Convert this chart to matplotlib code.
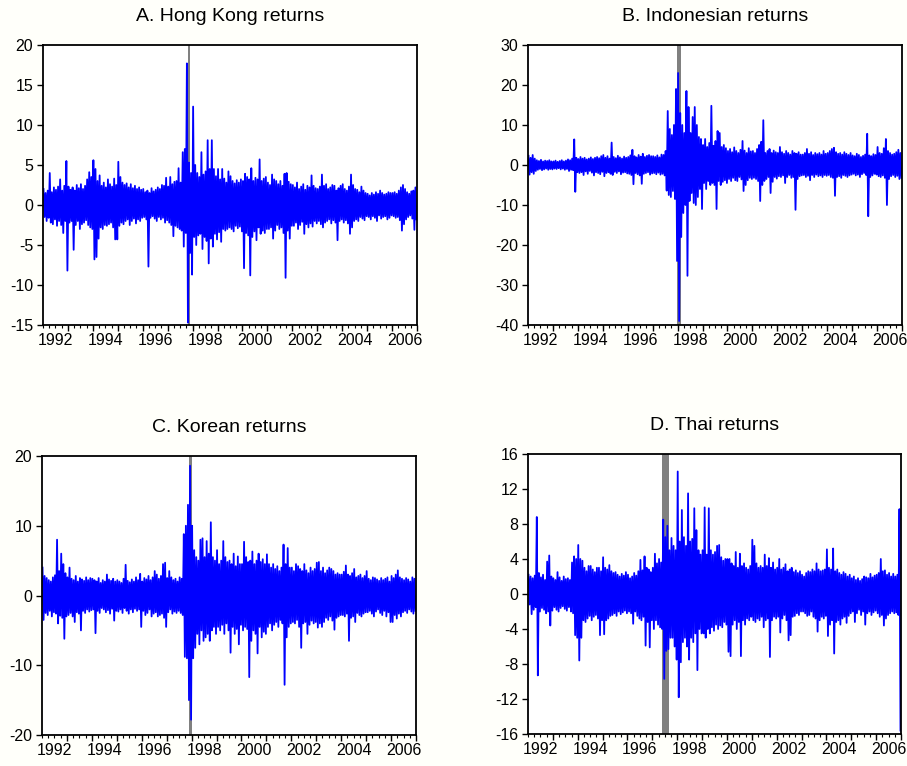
import numpy as np
import matplotlib
matplotlib.use("Agg")
from matplotlib import pyplot as plt

plt.rcParams['font.family'] = ['Liberation Sans', 'DejaVu Sans']
plt.rcParams['axes.unicode_minus'] = False

# monthly extremes of daily returns (%), Jan 1992 .. Dec 2006, one row per year
hk_high = [
    2.0, 1.5, 1.8, 4.0, 1.6, 2.2, 1.9, 2.3, 3.2, 1.8, 2.4, 5.5,
    2.3, 1.9, 2.2, 1.8, 2.5, 2.1, 2.6, 2.0, 2.4, 3.2, 4.1, 3.5,
    5.6, 4.5, 3.0, 3.7, 2.4, 2.8, 2.2, 3.2, 2.6, 2.3, 3.3, 2.5,
    5.4, 3.5, 2.8, 2.5, 2.7, 2.2, 2.6, 2.1, 2.4, 2.0, 2.2, 1.9,
    2.0, 1.6, 1.8, 1.5, 2.1, 1.7, 1.9, 2.2, 2.0, 2.5, 2.4, 3.4,
    2.3, 3.5, 2.6, 2.9, 3.0, 4.6, 2.8, 6.6, 7.0, 17.7, 5.3, 4.0,
    12.3, 5.0, 4.0, 3.5, 6.6, 3.8, 4.2, 8.1, 4.5, 8.1, 4.5, 3.6,
    4.5, 3.2, 4.5, 3.3, 2.8, 4.2, 3.6, 3.0, 2.7, 3.1, 2.8, 3.2,
    3.0, 3.9, 3.5, 3.2, 4.6, 3.0, 3.4, 3.2, 5.7, 3.0, 3.3, 3.5,
    2.8, 2.5, 3.8, 3.2, 3.0, 2.6, 3.0, 2.4, 3.9, 4.0, 2.9, 2.6,
    2.5, 2.2, 2.8, 2.0, 2.3, 2.6, 1.9, 2.4, 2.2, 3.7, 2.4, 2.1,
    2.0, 2.3, 3.8, 2.4, 2.6, 2.0, 2.2, 2.5, 2.4, 1.8, 2.1, 2.4,
    2.6, 2.0, 1.8, 2.3, 3.8, 2.5, 2.0, 1.9, 1.6, 2.3, 1.8, 1.5,
    1.4, 1.2, 1.5, 1.3, 1.6, 1.4, 1.8, 1.5, 1.3, 1.4, 1.6, 1.5,
    1.5, 1.6, 1.4, 1.8, 2.2, 2.5, 2.0, 1.6, 1.4, 1.7, 1.8, 2.2,
]
hk_low = [
    -1.5, -2.0, -1.6, -2.2, -2.4, -1.8, -2.6, -2.0, -2.5, -3.5, -2.0, -8.2,
    -2.2, -2.0, -5.6, -2.5, -2.0, -3.0, -2.4, -2.2, -1.9, -2.5, -2.8, -3.0,
    -6.8, -6.5, -4.2, -2.8, -3.0, -2.5, -2.6, -2.4, -2.2, -2.8, -4.3, -4.3,
    -2.6, -2.2, -2.4, -2.0, -1.8, -2.5, -2.0, -1.7, -2.3, -1.8, -2.0, -1.6,
    -1.5, -1.8, -7.7, -1.6, -1.4, -1.7, -2.0, -1.5, -1.8, -1.6, -2.2, -1.9,
    -2.2, -2.5, -3.9, -2.6, -2.8, -3.0, -3.2, -5.2, -3.5, -14.7, -6.0, -8.7,
    -4.0, -5.0, -3.8, -3.6, -5.5, -4.0, -4.5, -7.3, -4.2, -5.2, -3.6, -4.3,
    -3.4, -4.6, -3.0, -3.2, -3.0, -2.8, -3.0, -3.3, -2.6, -2.9, -2.7, -3.3,
    -7.9, -3.5, -3.8, -8.8, -4.0, -3.3, -4.4, -2.8, -3.6, -3.2, -3.5, -3.0,
    -3.0, -2.8, -4.2, -3.2, -2.5, -3.0, -2.8, -3.5, -9.1, -3.2, -4.2, -2.6,
    -2.6, -2.2, -3.0, -2.5, -2.1, -3.6, -2.4, -2.8, -2.3, -2.7, -2.0, -2.3,
    -2.0, -2.4, -2.8, -2.2, -2.0, -1.8, -2.3, -1.9, -2.2, -4.4, -2.0, -1.8,
    -2.2, -1.9, -2.3, -3.6, -2.8, -2.0, -1.8, -2.0, -1.5, -1.7, -1.9, -1.4,
    -1.5, -1.8, -1.4, -1.6, -2.0, -1.3, -1.7, -1.5, -1.4, -1.8, -1.6, -1.3,
    -1.4, -1.6, -1.5, -1.9, -3.2, -2.4, -1.8, -1.5, -1.3, -1.7, -3.1, -1.8,
]

id_high = [
    2.3, 1.8, 2.5, 1.6, 1.2, 1.0, 1.3, 0.9, 1.1, 1.0, 1.2, 0.9,
    0.9, 1.1, 0.8, 1.0, 1.2, 0.9, 1.1, 1.4, 1.2, 1.6, 6.4, 1.8,
    1.5, 2.0, 1.6, 1.8, 1.4, 1.6, 1.9, 1.5, 1.8, 2.0, 1.7, 2.2,
    2.5, 1.8, 2.2, 1.6, 5.6, 2.0, 1.7, 2.3, 1.9, 1.6, 2.1, 1.8,
    2.0, 2.4, 3.8, 2.2, 1.9, 2.5, 2.1, 2.8, 2.0, 2.3, 2.5, 2.2,
    2.2, 2.0, 2.4, 1.9, 2.6, 2.5, 3.5, 13.5, 9.0, 7.5, 10.0, 19.0,
    23.0, 13.0, 10.0, 8.0, 18.5, 14.5, 8.0, 12.0, 14.5, 10.0, 7.0, 6.5,
    5.0, 6.5, 4.5, 5.5, 14.8, 4.8, 6.0, 8.5, 8.0, 4.5, 5.0, 4.2,
    3.5, 4.0, 3.2, 4.4, 3.5, 3.0, 3.8, 6.0, 3.6, 3.0, 4.2, 3.4,
    3.5, 3.0, 4.0, 5.0, 5.8, 11.2, 3.0, 3.5, 4.0, 3.0, 3.6, 3.2,
    3.0, 4.5, 3.2, 2.8, 3.5, 3.0, 2.6, 3.5, 3.0, 2.8, 3.2, 2.6,
    2.6, 3.0, 4.0, 2.8, 3.2, 2.5, 3.0, 2.7, 3.0, 2.6, 3.5, 2.8,
    3.0, 3.5, 4.0, 4.3, 3.2, 2.8, 3.0, 2.6, 3.2, 2.8, 2.5, 3.0,
    2.4, 2.2, 2.8, 2.5, 2.0, 2.3, 2.6, 7.8, 2.4, 2.2, 2.7, 2.5,
    4.5, 3.0, 2.8, 4.2, 6.5, 3.5, 3.0, 2.6, 2.8, 3.2, 3.8, 3.0,
]
id_low = [
    -2.4, -1.8, -2.2, -1.5, -1.2, -1.0, -1.3, -1.1, -0.9, -1.2, -1.0, -1.1,
    -0.9, -1.0, -0.8, -1.1, -0.9, -1.2, -1.0, -1.5, -1.2, -1.3, -6.7, -1.8,
    -2.0, -1.8, -2.5, -1.6, -2.2, -1.5, -1.9, -2.6, -1.8, -2.0, -2.3, -1.7,
    -2.8, -2.0, -1.8, -2.2, -2.5, -1.7, -2.0, -1.6, -2.3, -1.9, -1.8, -2.1,
    -2.2, -2.5, -4.8, -2.0, -2.3, -2.6, -4.7, -2.2, -2.0, -1.8, -2.4, -2.1,
    -2.0, -2.3, -1.9, -2.4, -2.2, -2.6, -6.4, -7.5, -8.0, -6.5, -8.5, -24.0,
    -39.0, -18.0, -12.0, -10.0, -27.7, -9.0, -7.0, -9.5, -10.0, -8.0, -6.0, -11.0,
    -4.5, -6.0, -4.0, -5.0, -4.5, -5.0, -11.0, -4.0, -5.0, -4.2, -3.8, -4.5,
    -3.5, -4.0, -3.2, -3.8, -4.0, -3.0, -3.6, -6.5, -5.0, -3.8, -3.2, -3.5,
    -3.2, -3.5, -4.0, -9.0, -5.0, -4.0, -3.5, -3.0, -7.0, -4.2, -3.0, -3.4,
    -2.8, -3.0, -2.6, -4.5, -3.0, -2.5, -3.2, -3.0, -11.2, -3.5, -2.8, -2.6,
    -2.5, -3.0, -2.7, -3.8, -2.5, -3.0, -2.4, -2.8, -2.6, -3.0, -2.5, -2.7,
    -2.5, -3.0, -3.2, -7.7, -3.0, -2.8, -3.2, -2.5, -2.7, -3.0, -2.6, -2.4,
    -2.2, -2.6, -2.4, -3.0, -2.3, -2.0, -2.5, -12.8, -3.0, -2.6, -2.2, -2.4,
    -2.8, -3.0, -2.6, -3.2, -10.0, -3.5, -2.8, -2.5, -3.0, -2.7, -3.5, -3.2,
]

kr_high = [
    4.0, 2.8, 2.5, 2.2, 2.0, 2.6, 2.9, 8.0, 3.5, 6.0, 4.5, 3.2,
    2.6, 4.0, 2.4, 2.2, 2.8, 2.0, 2.5, 2.3, 2.1, 2.6, 2.2, 2.5,
    2.4, 2.2, 2.0, 2.5, 1.8, 2.2, 2.0, 3.0, 2.3, 2.1, 2.4, 2.0,
    2.2, 2.0, 1.8, 2.4, 4.4, 2.1, 1.9, 2.3, 2.0, 2.6, 2.2, 3.1,
    2.0, 2.5, 2.3, 2.8, 2.2, 2.6, 3.5, 3.0, 2.4, 2.8, 4.5, 4.7,
    2.5, 3.5, 2.6, 2.2, 2.4, 2.0, 2.6, 2.4, 8.8, 10.0, 13.0, 18.6,
    10.0, 6.5, 5.5, 5.0, 8.0, 8.2, 5.5, 7.8, 6.0, 10.5, 5.5, 5.0,
    6.5, 4.5, 5.0, 7.8, 5.5, 4.8, 5.0, 4.5, 6.0, 4.2, 5.6, 4.5,
    4.5, 7.7, 5.5, 4.8, 5.0, 6.3, 4.5, 5.0, 6.0, 4.8, 5.2, 4.5,
    5.9, 4.5, 4.0, 4.5, 3.8, 4.2, 3.5, 4.0, 7.3, 4.5, 6.8, 4.0,
    4.0, 3.5, 4.5, 4.2, 3.8, 3.5, 4.5, 3.6, 3.2, 4.0, 3.5, 3.8,
    4.7, 4.8, 3.5, 4.0, 3.2, 3.6, 4.0, 3.8, 3.5, 3.0, 3.2, 3.0,
    3.0, 3.4, 4.3, 3.0, 2.8, 3.2, 3.8, 2.6, 2.8, 3.0, 2.5, 2.8,
    3.5, 2.4, 2.2, 2.6, 2.5, 2.3, 2.1, 2.5, 2.2, 2.4, 2.6, 2.0,
    2.8, 2.5, 3.0, 3.6, 2.6, 2.4, 2.2, 2.5, 2.3, 2.0, 2.6, 2.4,
]
kr_low = [
    -3.5, -2.5, -2.8, -2.2, -3.0, -2.4, -2.6, -4.0, -2.9, -3.2, -6.2, -3.0,
    -2.8, -2.5, -3.0, -3.8, -2.4, -2.6, -5.0, -2.2, -2.5, -2.0, -2.3, -2.1,
    -2.0, -5.4, -2.2, -2.5, -1.8, -2.0, -2.4, -2.1, -2.6, -1.9, -3.6, -2.2,
    -2.3, -2.0, -2.5, -1.8, -2.2, -2.6, -2.0, -2.4, -1.9, -2.2, -2.0, -4.5,
    -2.2, -2.8, -2.5, -2.0, -3.0, -2.6, -2.4, -3.0, -2.8, -2.6, -3.2, -4.5,
    -2.4, -2.0, -2.6, -2.3, -2.5, -2.2, -2.5, -2.8, -8.8, -9.0, -15.0, -17.8,
    -9.0, -7.5, -5.5, -7.0, -5.0, -6.5, -6.0, -5.5, -6.5, -5.0, -4.5, -5.5,
    -4.5, -5.0, -4.2, -5.5, -4.0, -5.0, -8.2, -4.5, -5.5, -4.8, -7.0, -4.2,
    -5.0, -4.5, -4.8, -11.7, -6.5, -5.0, -5.5, -8.3, -4.5, -6.0, -5.2, -5.5,
    -4.5, -4.0, -5.0, -4.2, -3.8, -4.5, -3.5, -4.0, -12.8, -6.0, -4.5, -4.0,
    -3.8, -4.0, -3.5, -4.5, -7.5, -4.0, -3.8, -5.5, -4.2, -3.6, -4.0, -3.8,
    -4.6, -4.0, -4.5, -3.8, -3.2, -3.5, -3.0, -3.6, -4.9, -3.2, -3.0, -2.8,
    -2.8, -3.0, -2.6, -6.5, -3.2, -3.0, -3.8, -2.5, -2.8, -3.0, -2.6, -2.4,
    -2.4, -2.2, -2.6, -3.0, -2.3, -2.0, -2.5, -2.8, -2.2, -3.0, -2.4, -3.8,
    -3.8, -2.8, -3.3, -2.6, -3.0, -2.4, -2.2, -2.5, -2.0, -2.3, -2.6, -2.2,
]

th_high = [
    2.2, 2.0, 1.8, 2.1, 8.8, 2.4, 1.9, 2.2, 1.6, 3.7, 4.4, 2.0,
    1.8, 1.6, 2.5, 1.9, 1.5, 2.0, 1.7, 1.8, 1.6, 3.6, 4.3, 4.0,
    5.6, 4.0, 3.8, 3.0, 2.6, 3.2, 3.2, 2.8, 2.5, 3.0, 3.0, 2.6,
    4.2, 3.0, 2.8, 3.3, 2.6, 2.4, 2.5, 2.2, 2.0, 2.3, 2.1, 2.5,
    2.2, 1.8, 2.0, 2.4, 2.1, 2.6, 3.9, 2.7, 4.3, 3.0, 2.8, 2.5,
    3.0, 4.6, 3.5, 4.0, 3.6, 8.5, 6.5, 7.8, 5.0, 6.4, 5.5, 5.0,
    14.0, 6.0, 9.6, 6.5, 5.5, 11.5, 6.0, 6.3, 9.8, 7.3, 5.0, 4.5,
    5.0, 9.9, 4.5, 9.8, 5.0, 4.5, 4.8, 5.5, 5.6, 4.2, 3.8, 4.0,
    4.0, 4.0, 3.5, 3.2, 4.8, 3.0, 4.6, 3.2, 3.5, 3.0, 2.8, 3.2,
    6.2, 5.5, 3.5, 3.0, 3.2, 3.0, 4.5, 3.2, 4.1, 3.0, 3.6, 2.8,
    3.0, 4.0, 2.8, 3.0, 3.4, 2.6, 2.8, 3.0, 2.5, 2.7, 2.4, 2.6,
    2.2, 2.0, 2.4, 2.6, 2.5, 2.8, 2.6, 3.5, 2.8, 2.6, 2.7, 2.8,
    5.1, 3.0, 2.8, 5.2, 2.6, 2.8, 2.4, 2.2, 2.5, 2.3, 2.0, 2.2,
    1.8, 2.0, 1.6, 1.8, 1.5, 1.7, 2.0, 1.9, 1.8, 2.3, 1.9, 2.1,
    2.2, 2.4, 4.0, 2.6, 2.7, 2.2, 2.4, 2.0, 2.3, 2.0, 2.2, 9.7,
]
th_low = [
    -1.2, -2.3, -1.8, -1.5, -9.3, -2.0, -1.6, -1.8, -2.2, -2.0, -3.6, -1.9,
    -1.5, -1.8, -2.0, -1.6, -1.4, -1.7, -1.9, -1.5, -2.0, -2.2, -4.7, -5.0,
    -7.6, -5.0, -3.0, -3.2, -2.8, -2.5, -3.0, -2.6, -2.4, -2.8, -4.7, -3.0,
    -4.6, -3.0, -2.8, -2.5, -2.4, -2.2, -2.5, -2.0, -2.3, -2.1, -1.9, -2.2,
    -2.0, -2.2, -3.4, -2.0, -2.5, -2.8, -3.0, -2.6, -5.9, -3.2, -6.1, -3.0,
    -4.0, -3.0, -3.5, -3.8, -4.0, -9.7, -6.5, -6.3, -5.0, -5.0, -6.0, -7.5,
    -11.8, -7.8, -5.5, -5.0, -6.0, -7.5, -5.0, -5.5, -4.5, -8.7, -4.0, -4.5,
    -4.5, -5.0, -4.0, -4.5, -3.8, -4.2, -3.5, -4.0, -3.6, -3.8, -3.2, -3.5,
    -6.6, -7.1, -3.5, -3.0, -4.0, -3.2, -7.1, -3.0, -3.5, -2.8, -3.0, -2.6,
    -3.0, -3.2, -2.8, -3.0, -2.6, -3.8, -3.0, -2.8, -7.2, -3.0, -2.6, -2.8,
    -2.6, -4.4, -2.8, -2.4, -3.0, -5.3, -4.7, -2.6, -2.5, -2.2, -2.4, -2.0,
    -2.0, -2.2, -2.5, -2.4, -2.0, -2.6, -2.8, -4.3, -3.0, -2.6, -2.8, -2.5,
    -4.8, -3.5, -3.0, -6.8, -3.2, -3.0, -3.5, -2.8, -2.6, -3.3, -2.5, -2.2,
    -2.0, -3.2, -2.2, -1.8, -2.4, -2.0, -3.5, -2.2, -2.0, -2.4, -2.1, -1.9,
    -2.2, -2.6, -2.4, -3.6, -2.8, -2.4, -2.2, -2.0, -2.2, -2.1, -2.4, -15.6,
]

titles = ['A. Hong Kong returns', 'B. Indonesian returns',
          'C. Korean returns', 'D. Thai returns']
crisis = [(1997.82, 1997.88), (1997.98, 1998.14), (1997.88, 1998.0), (1997.39, 1997.67)]
ylims = [(-15, 20), (-40, 30), (-20, 20), (-16, 16)]
ysteps = [5, 10, 10, 4]
start_year = 1992
year_labels = [1992, 1994, 1996, 1998, 2000, 2002, 2004, 2006]

# pixel boxes of the four panels: left, top, right, bottom
boxes = [(43, 45, 417, 325), (528, 45, 902, 325), (42, 456, 416, 735), (528, 454, 901, 734)]


def panel(fig, box, title, high, low, span, ylim, ystep):
    W, H = 907.0, 766.0
    l, t, r, b = box
    ax = fig.add_axes([l / W, 1 - b / H, (r - l) / W, (b - t) / H])
    n = len(high)
    t_hi = start_year + (np.arange(n) + 0.25) / 12
    t_lo = start_year + (np.arange(n) + 0.75) / 12
    x = np.column_stack([t_hi, t_lo]).ravel()
    y = np.column_stack([high, low]).ravel()
    ax.axvspan(span[0], span[1], color='#808080', lw=0, zorder=1)
    ax.plot(x, y, color='#0000ff', lw=1.3, zorder=2)
    ax.set_xlim(start_year, start_year + n / 12)
    ax.set_ylim(*ylim)
    ax.set_yticks(np.arange(ylim[0], ylim[1] + 0.1, ystep))
    ax.set_xticks([yr + 0.5 for yr in year_labels], [str(yr) for yr in year_labels])
    ax.set_xticks(np.arange(start_year + 1, start_year + n // 12 + 1), minor=True)
    ax.tick_params(axis='x', which='major', length=0, pad=6, labelsize=11.5)
    ax.tick_params(axis='x', which='minor', length=4.5, width=1, direction='out')
    ax.tick_params(axis='y', length=4, width=1, direction='out', pad=3, labelsize=11.5)
    sec = ax.secondary_xaxis('bottom')
    sec.set_xticks(np.arange(start_year, start_year + n / 12, 0.25))
    sec.tick_params(length=2.5, width=0.8, labelbottom=False)
    sec.spines['bottom'].set_visible(False)
    for s in ax.spines.values():
        s.set_linewidth(1.3)
    ax.set_title(title, fontsize=14, pad=17)
    return ax


def main():
    fig = plt.figure(figsize=(9.07, 7.66), dpi=100, facecolor='#fffffa')
    data = [(hk_high, hk_low), (id_high, id_low), (kr_high, kr_low), (th_high, th_low)]
    for i in range(4):
        panel(fig, boxes[i], titles[i], data[i][0], data[i][1], crisis[i], ylims[i], ysteps[i])
    fig.savefig('out.png', dpi=100, facecolor=fig.get_facecolor())


if __name__ == '__main__':
    main()
